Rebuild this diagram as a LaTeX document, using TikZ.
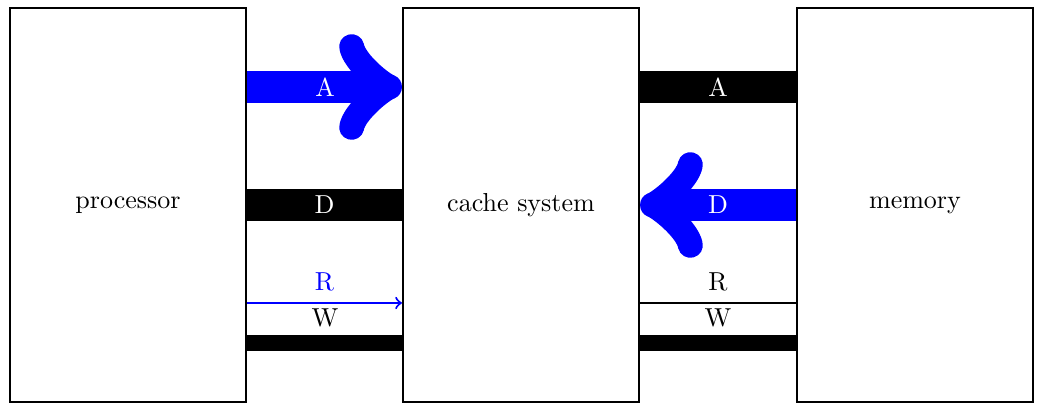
\documentclass[tikz,border=0pt]{standalone}
\begin{document}
\begin{tikzpicture}[x=0.3846pt,y=-0.3846pt,
  box/.style={draw,line width=0.8pt,minimum width={236*0.3846pt},minimum height={394*0.3846pt},inner sep=0pt},
  bus/.style={line width=12pt},
  thin/.style={line width=0.8pt},
  wbus/.style={line width=6pt},
  big/.style={blue,line width=12pt,->,line cap=round},
  lbl/.style={white,font=\normalsize}]
\useasboundingbox (0,0) rectangle (1051,419);
\node[box] (p) at (128,205) {processor};
\node[box] (c) at (521,205) {cache system};
\node[box] (m) at (915,205) {memory};
% left side
\coordinate (pA) at (p.east |- 0,87); \coordinate (cA) at (c.west |- 0,87);
\coordinate (pD) at (p.east |- 0,205); \coordinate (cD) at (c.west |- 0,205);
\coordinate (pR) at (p.east |- 0,303); \coordinate (cR) at (c.west |- 0,303);
\coordinate (pW) at (p.east |- 0,343); \coordinate (cW) at (c.west |- 0,343);
\draw[big,line cap=butt] (pA) -- (cA);
\node[lbl] at (325,87) {A};
\draw[bus] (pD) -- (cD) node[midway,lbl] {D};
\draw[thin,blue,->] (pR) -- (cR) node[midway,above=1pt] {R};
\node at (325,318) {W};
\draw[wbus] (pW) -- (cW);
% right side
\coordinate (cA2) at (c.east |- 0,87); \coordinate (mA) at (m.west |- 0,87);
\coordinate (cD2) at (c.east |- 0,205); \coordinate (mD) at (m.west |- 0,205);
\coordinate (cR2) at (c.east |- 0,303); \coordinate (mR) at (m.west |- 0,303);
\coordinate (cW2) at (c.east |- 0,343); \coordinate (mW) at (m.west |- 0,343);
\draw[bus] (cA2) -- (mA) node[midway,lbl] {A};
\draw[big,line cap=butt] (mD) -- (cD2);
\node[lbl] at (718,205) {D};
\draw[thin] (cR2) -- (mR) node[midway,above=1pt] {R};
\node at (718,318) {W};
\draw[wbus] (cW2) -- (mW);
\end{tikzpicture}
\end{document}
